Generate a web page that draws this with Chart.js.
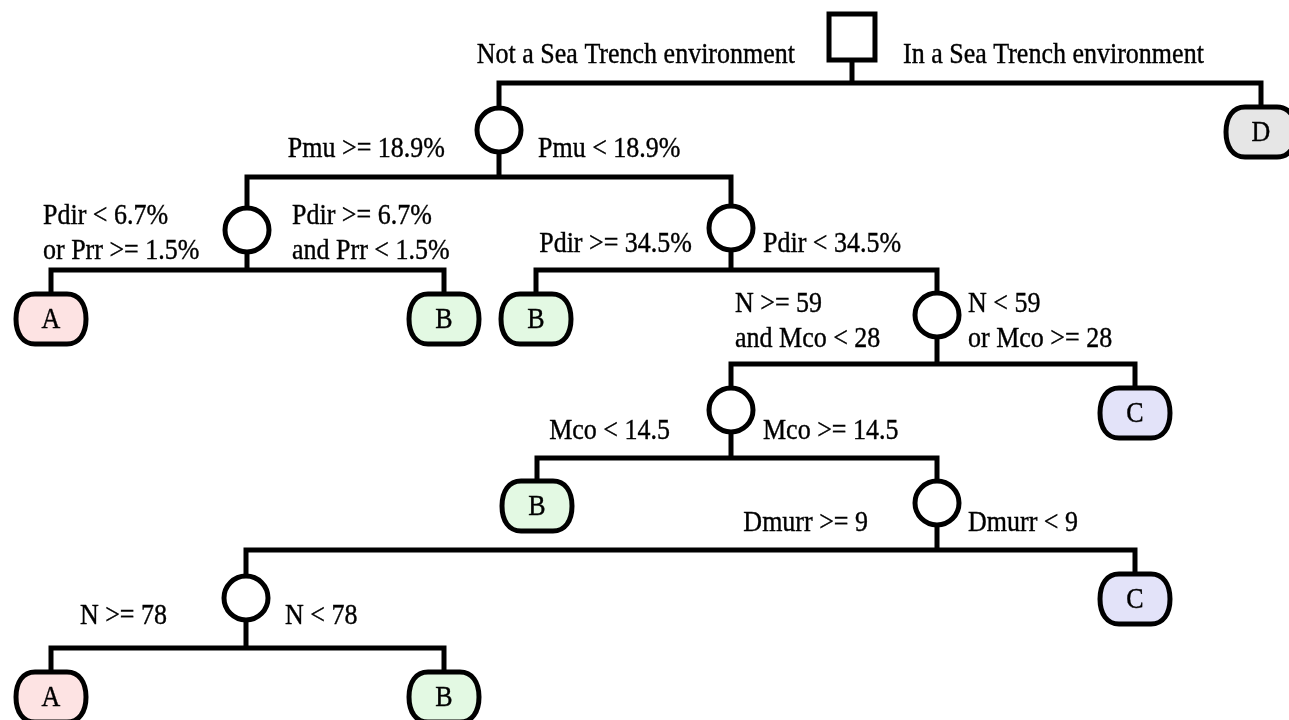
<!DOCTYPE html>
<html>
<head>
<meta charset="utf-8">
<title>Decision tree</title>
<script src="https://cdn.jsdelivr.net/npm/chart.js@4.4.0/dist/chart.umd.min.js"></script>
<style>
    html, body { margin: 0; padding: 0; background: #ffffff; }
    canvas { display: block; }
</style>
</head>
<body>
<canvas id="treeChart" width="1289" height="720"></canvas>
<script>
// nodes of the tree: kind and class (leaves only)
var nodeKinds = ['root', 'split', 'leaf', 'split', 'split', 'leaf', 'leaf', 'leaf', 'split',
                 'split', 'leaf', 'leaf', 'split', 'split', 'leaf', 'leaf', 'leaf'];
var leafClasses = ['', '', 'D', '', '', 'A', 'B', 'B', '', '', 'C', 'B', '', '', 'C', 'A', 'B'];

// splits: parent -> left child / right child, with the branch conditions
var splitParent = [0, 1, 3, 4, 8, 9, 12, 13];
var splitLeft   = [1, 3, 5, 7, 9, 11, 13, 15];
var splitRight  = [2, 4, 6, 8, 10, 12, 14, 16];
var leftConditions = [
    ['Not a Sea Trench environment'],
    ['Pmu >= 18.9%'],
    ['Pdir < 6.7%', 'or Prr >= 1.5%'],
    ['Pdir >= 34.5%'],
    ['N >= 59', 'and Mco < 28'],
    ['Mco < 14.5'],
    ['Dmurr >= 9'],
    ['N >= 78']
];
var rightConditions = [
    ['In a Sea Trench environment'],
    ['Pmu < 18.9%'],
    ['Pdir >= 6.7%', 'and Prr < 1.5%'],
    ['Pdir < 34.5%'],
    ['N < 59', 'or Mco >= 28'],
    ['Mco >= 14.5'],
    ['Dmurr < 9'],
    ['N < 78']
];

// layout (axis units = pixels)
var nodeX = [852, 499, 1261, 247, 731, 51, 444, 536, 937, 731, 1135, 537, 937, 246, 1135, 51, 444];
var nodeY = [37, 130, 132, 230, 228, 319, 319, 319, 315, 410, 413, 506, 503, 598, 599, 697, 697];
var barY = [83, 177, 270, 270, 364, 458, 550, 648];
// label anchors: [x, y of first line, align]
var leftLabelPos  = [[795, 55, 'right'], [445, 149, 'right'], [43, 216, 'left'], [692, 244, 'right'],
                     [735, 304, 'left'], [670, 431, 'right'], [868, 523, 'right'], [167, 616, 'right']];
var rightLabelPos = [[903, 55, 'left'], [538, 149, 'left'], [292, 216, 'left'], [763, 244, 'left'],
                     [968, 304, 'left'], [763, 431, 'left'], [968, 523, 'left'], [285, 616, 'left']];
var lineGap = 35;

var leafFill = { A: '#fde3e3', B: '#e3f9e3', C: '#e3e3f9', D: '#e6e6e6' };
var fontSpec = '26px "Liberation Serif", "Times New Roman", serif';
var textStretch = 1.12;

// connector datasets, one per split
var datasets = [];
splitParent.forEach(function (p, i) {
    var l = splitLeft[i], r = splitRight[i], b = barY[i];
    datasets.push({
        type: 'scatter',
        showLine: true,
        clip: false,
        data: [
            { x: nodeX[l], y: nodeY[l] },
            { x: nodeX[l], y: b },
            { x: nodeX[p], y: b },
            { x: nodeX[p], y: nodeY[p] },
            { x: nodeX[p], y: b },
            { x: nodeX[r], y: b },
            { x: nodeX[r], y: nodeY[r] }
        ],
        borderColor: '#000000',
        borderWidth: 5,
        borderJoinStyle: 'miter',
        borderCapStyle: 'butt',
        pointRadius: 0,
        pointHoverRadius: 0,
        order: 5
    });
});

// decision nodes (circles) and the root (square)
var circlePts = [], rootPts = [];
nodeKinds.forEach(function (k, i) {
    if (k === 'split') circlePts.push({ x: nodeX[i], y: nodeY[i] });
    if (k === 'root') rootPts.push({ x: nodeX[i], y: nodeY[i] });
});
datasets.push({
    type: 'scatter',
    data: circlePts,
    clip: false,
    pointStyle: 'circle',
    pointRadius: 22,
    pointHoverRadius: 22,
    pointBorderWidth: 5,
    pointBackgroundColor: '#ffffff',
    pointBorderColor: '#000000',
    order: 1
});
datasets.push({
    type: 'scatter',
    data: rootPts,
    clip: false,
    pointStyle: 'rect',
    pointRadius: 32.5,
    pointHoverRadius: 32.5,
    pointBorderWidth: 5,
    pointBackgroundColor: '#ffffff',
    pointBorderColor: '#000000',
    order: 1
});

// leaves and condition text
var treeDecor = {
    id: 'treeDecor',
    afterDatasetsDraw: function (chart) {
        var ctx = chart.ctx;
        var xs = chart.scales.x, ys = chart.scales.y;
        function text(t, x, y) {
            ctx.save();
            ctx.translate(x, y);
            ctx.scale(1, textStretch);
            ctx.fillText(t, 0, 0);
            ctx.lineWidth = 0.35;
            ctx.strokeText(t, 0, 0);
            ctx.restore();
        }
        ctx.save();
        ctx.strokeStyle = '#000000';
        // leaf boxes
        nodeKinds.forEach(function (k, i) {
            if (k !== 'leaf') return;
            var cx = xs.getPixelForValue(nodeX[i]);
            var cy = ys.getPixelForValue(nodeY[i]);
            var x0 = cx - 30, x1 = cx + 30, y0 = cy - 25, y1 = cy + 25;
            ctx.beginPath();
            ctx.moveTo(x0 + 14, y0);
            ctx.lineTo(x1 - 14, y0);
            ctx.bezierCurveTo(x1 - 2, y0, x1 + 5, y0 + 10, x1 + 5, cy);
            ctx.bezierCurveTo(x1 + 5, y1 - 10, x1 - 2, y1, x1 - 14, y1);
            ctx.lineTo(x0 + 14, y1);
            ctx.bezierCurveTo(x0 + 2, y1, x0 - 5, y1 - 10, x0 - 5, cy);
            ctx.bezierCurveTo(x0 - 5, y0 + 10, x0 + 2, y0, x0 + 14, y0);
            ctx.closePath();
            ctx.fillStyle = leafFill[leafClasses[i]];
            ctx.fill();
            ctx.lineWidth = 5;
            ctx.stroke();
            ctx.fillStyle = '#000000';
            ctx.font = fontSpec;
            ctx.textAlign = 'center';
            ctx.textBaseline = 'middle';
            text(leafClasses[i], cx, cy + 1);
        });
        // branch conditions
        ctx.fillStyle = '#000000';
        ctx.font = fontSpec;
        ctx.textBaseline = 'middle';
        function drawLines(lines, pos) {
            ctx.textAlign = pos[2];
            lines.forEach(function (t, j) {
                text(t, xs.getPixelForValue(pos[0]), ys.getPixelForValue(pos[1] + j * lineGap));
            });
        }
        leftConditions.forEach(function (lines, i) { drawLines(lines, leftLabelPos[i]); });
        rightConditions.forEach(function (lines, i) { drawLines(lines, rightLabelPos[i]); });
        ctx.restore();
    }
};

var chart = new Chart(document.getElementById('treeChart').getContext('2d'), {
    type: 'scatter',
    data: { datasets: datasets },
    options: {
        responsive: false,
        animation: false,
        events: [],
        layout: { padding: 0, autoPadding: false },
        plugins: { legend: { display: false }, tooltip: { enabled: false } },
        scales: {
            x: { type: 'linear', min: 0, max: 1289, display: false },
            y: { type: 'linear', min: 0, max: 720, reverse: true, display: false }
        }
    },
    plugins: [treeDecor]
});
</script>
</body>
</html>
